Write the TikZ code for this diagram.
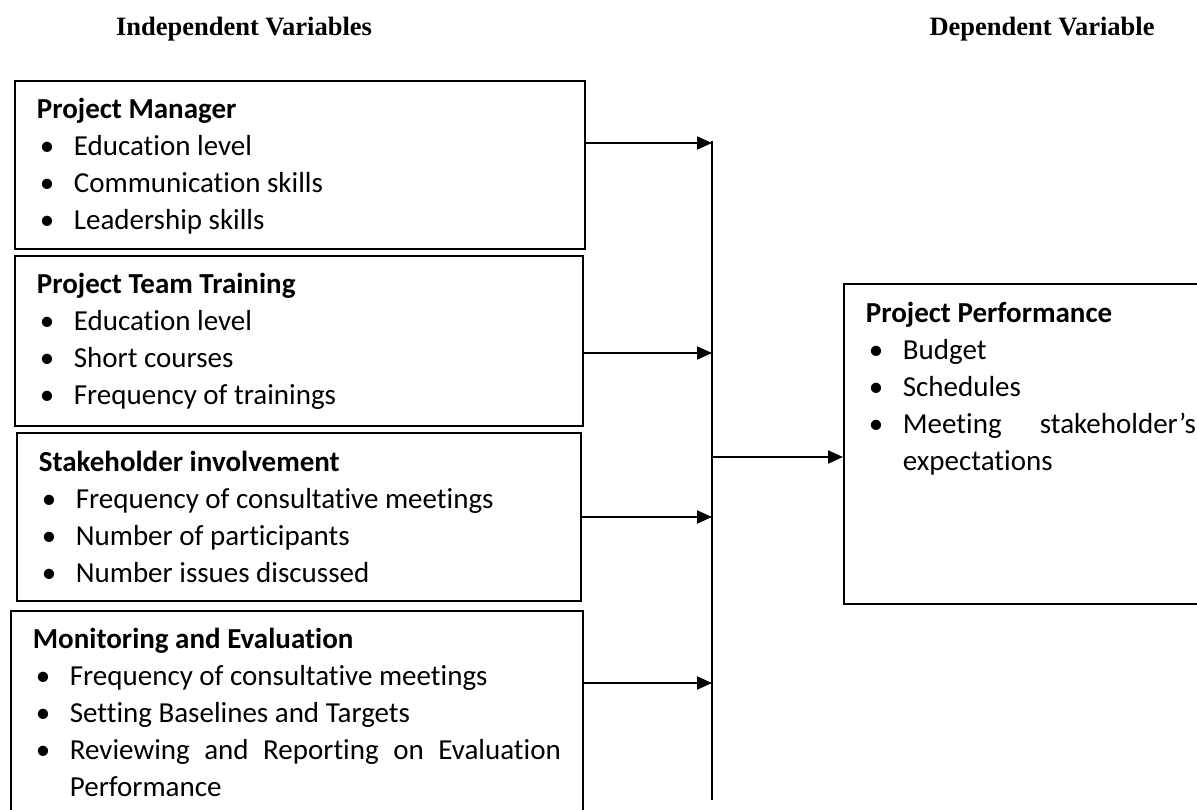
\documentclass[tikz,border=0pt]{standalone}
\usepackage{fontspec}
\setmainfont{Carlito}[Ligatures=NoCommon]
\newfontfamily\headfont{Liberation Serif}
\usetikzlibrary{positioning}
\usetikzlibrary{arrows.meta}

% no word breaks inside the boxes
\hyphenpenalty=10000
\exhyphenpenalty=10000

% one bullet line, later lines hang under the text
\newcommand{\pitem}[1]{\par\noindent\hangindent=37pt\hangafter=1\makebox[37pt][l]{\hspace{3pt}\textbullet}#1}

\begin{document}
\begin{tikzpicture}
  [
    x=1pt, y=-1pt,
    head/.style={
       font=\headfont\bfseries\fontsize{26.5}{30}\selectfont
    },
    varbox/.style={
       draw=black,
       line width=1.8pt,
       anchor=north west,
       inner xsep=22pt,
       inner ysep=17pt,
       font=\fontsize{29}{37}\selectfont
    },
    link/.style={
       line width=2pt,
       -{Triangle[length=15pt,width=13pt]}
    },
    spine/.style={
       line width=1.2pt
    }
  ]
  \useasboundingbox (0,0) rectangle (1197,810);

  \node (indep) at ( 244,29) [head] {Independent Variables};
  \node (dep)   at (1042,29) [head] {Dependent Variable};

  \node (pm)  at (14,80)  [varbox] {\parbox[t][134pt][t]{526pt}{\textbf{Project Manager}
      \pitem{Education level}\pitem{Communication skills}\pitem{Leadership skills}}};
  \node (ptt) at (14,255) [varbox] {\parbox[t][136pt][t]{524pt}{\textbf{Project Team Training}
      \pitem{Education level}\pitem{Short courses}\pitem{Frequency of trainings}}};
  \node (si)  at (16,432) [varbox, inner ysep=18pt] {\parbox[t][132pt][t]{520pt}{\textbf{Stakeholder involvement}
      \pitem{Frequency of consultative meetings}\pitem{Number of participants}\pitem{Number issues discussed}}};
  \node (me)  at (10,610) [varbox] {\parbox[t][186pt][t]{528pt}{\textbf{Monitoring and Evaluation}
      \pitem{Frequency of consultative meetings}\pitem{Setting Baselines and Targets}
      \pitem{Reviewing and Reporting on Evaluation Performance}}};

  \node (pp)  at (843,283) [varbox, inner ysep=18pt] {\parbox[t][284pt][t]{330pt}{\textbf{Project Performance}
      \pitem{Budget}\pitem{Schedules}\pitem{Meeting stakeholder's expectations}}};

  % rows of the arrows
  \coordinate (r1) at (0,143);
  \coordinate (r2) at (0,353);
  \coordinate (r3) at (0,517);
  \coordinate (r4) at (0,683);
  \coordinate (rout) at (0,457);

  \coordinate (spinetop) at (712,141);
  \coordinate (spinebot) at (712,800);
  \draw [spine] (spinetop) -- (spinebot);

  \draw [link] (pm.east  |- r1) -- (spinetop |- r1);
  \draw [link] (ptt.east |- r2) -- (spinetop |- r2);
  \draw [link] (si.east  |- r3) -- (spinetop |- r3);
  \draw [link] (me.east  |- r4) -- (spinetop |- r4);
  \draw [link] (spinetop |- rout) -- (pp.west |- rout);
\end{tikzpicture}
\end{document}
